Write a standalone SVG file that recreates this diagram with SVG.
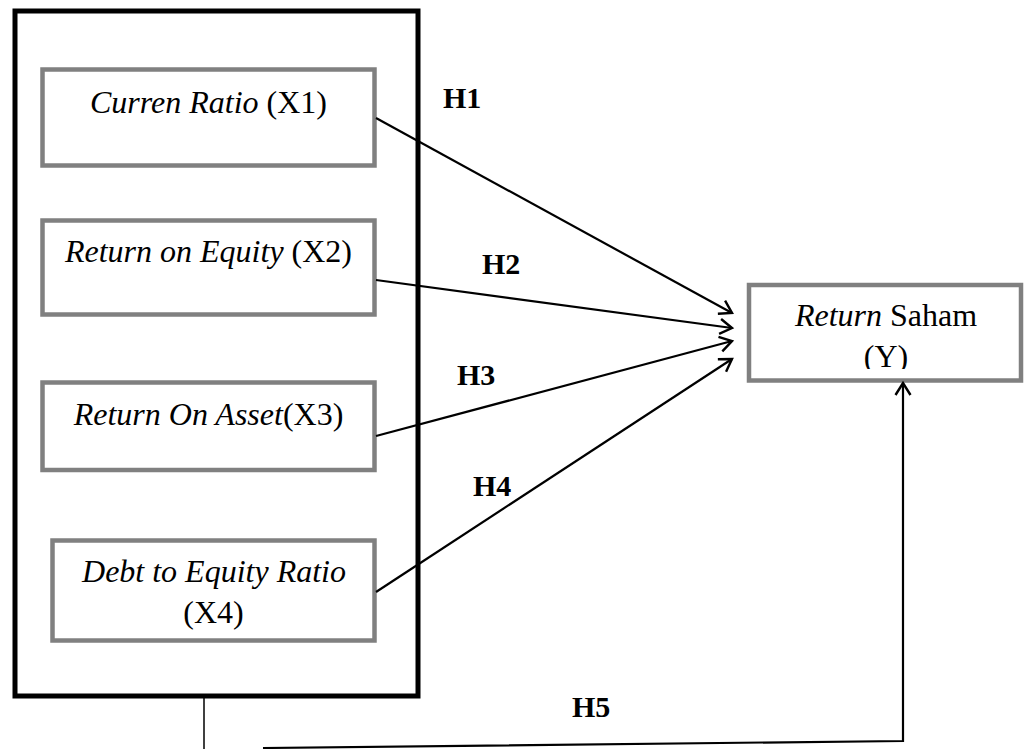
<svg xmlns="http://www.w3.org/2000/svg" width="1024" height="749" viewBox="0 0 1024 749">
<style>
.box{fill:#fff;stroke:#808080;stroke-width:4.5}
.t{font-family:"Liberation Serif","Times New Roman",serif;font-size:32px;fill:#000;text-anchor:middle}
.i{font-style:italic}
.h{font-family:"Liberation Serif","Times New Roman",serif;font-size:30px;font-weight:bold;fill:#000}
.c{fill:none;stroke:#000;stroke-width:2.2}
</style>
<defs>
<marker id="ah" markerUnits="userSpaceOnUse" markerWidth="30" markerHeight="30" refX="0" refY="0" viewBox="-15 -15 30 30" orient="auto">
<path d="M-12,-7.5 L0,0 L-12,7.5" fill="none" stroke="#000" stroke-width="2.4"/>
</marker>
<clipPath id="yclip"><rect x="749" y="285" width="272" height="84"/></clipPath>
</defs>
<rect id="outer" x="15" y="11" width="403" height="685" fill="#fff" stroke="#000" stroke-width="5"/>
<g id="x1">
<rect class="box" x="42.5" y="69.5" width="332" height="96"/>
<text class="t" x="208.5" y="113"><tspan class="i">Curren Ratio</tspan> (X1)</text>
</g>
<g id="x2">
<rect class="box" x="42.5" y="220.5" width="332" height="94"/>
<text class="t" x="208.5" y="262"><tspan class="i">Return on Equity</tspan> (X2)</text>
</g>
<g id="x3">
<rect class="box" x="42.5" y="382.5" width="332" height="87.5"/>
<text class="t" x="208.5" y="425"><tspan class="i">Return On Asset</tspan>(X3)</text>
</g>
<g id="x4">
<rect class="box" x="52.5" y="540.5" width="322" height="100"/>
<text class="t" x="214" y="582"><tspan class="i">Debt to Equity Ratio</tspan></text>
<text class="t" x="213.5" y="623">(X4)</text>
</g>
<g id="y">
<rect class="box" x="749" y="285" width="272" height="95.5"/>
<text class="t" x="886" y="326"><tspan class="i">Return</tspan> Saham</text>
<text class="t" x="886" y="367" clip-path="url(#yclip)">(Y)</text>
</g>
<g id="connectors">
<line class="c" x1="376" y1="118" x2="732" y2="313" marker-end="url(#ah)"/>
<line class="c" x1="376" y1="280" x2="732" y2="328" marker-end="url(#ah)"/>
<line class="c" x1="376" y1="436" x2="732" y2="341" marker-end="url(#ah)"/>
<line class="c" x1="376" y1="592" x2="732" y2="359" marker-end="url(#ah)"/>
<line x1="204" y1="698" x2="204" y2="749" stroke="#000" stroke-width="1.5"/>
<polyline class="c" points="263,748 903,741 903,383" marker-end="url(#ah)"/>
</g>
<g id="labels">
<text class="h" x="443" y="108">H1</text>
<text class="h" x="482" y="274">H2</text>
<text class="h" x="457" y="385">H3</text>
<text class="h" x="473" y="496">H4</text>
<text class="h" x="572" y="717">H5</text>
</g>
</svg>
